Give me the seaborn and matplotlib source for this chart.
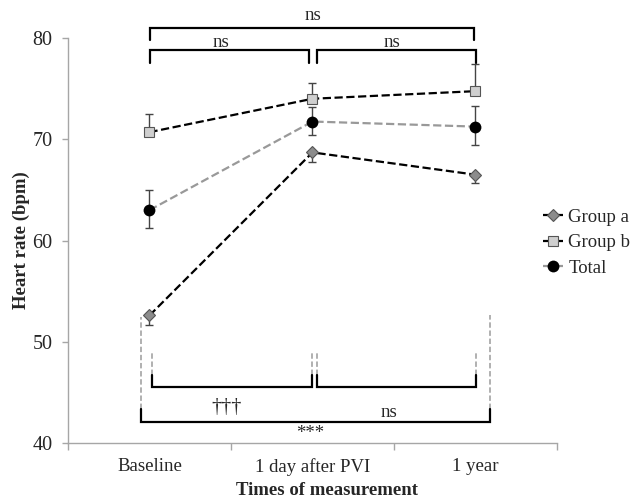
import numpy as np
import pandas as pd
import matplotlib
matplotlib.use("Agg")
import matplotlib.pyplot as plt
import seaborn as sns

# values
times = ["Baseline", "1 day after PVI", "1 year"]
group_a = [52.6, 68.7, 66.5]
group_a_err = [0.95, 0.9, 0.85]      # only lower whisker visible
group_b = [70.7, 74.0, 74.75]
group_b_err = [1.75, 1.6, 2.65]      # only upper whisker visible
total = [63.0, 71.75, 71.25]
total_err_low = [1.8, 1.3, 1.85]
total_err_high = [2.0, 1.4, 2.0]

df = pd.DataFrame({
    "time": times * 3,
    "hr": group_a + group_b + total,
    "group": ["Group a"] * 3 + ["Group b"] * 3 + ["Total"] * 3,
})

sns.set_style("white")
plt.rcParams["font.family"] = ["Liberation Serif", "DejaVu Serif"]
plt.rcParams["font.size"] = 13.5

fig = plt.figure(figsize=(6.42, 5.04), dpi=100)
ax = fig.add_axes([0.1059, 0.121, 0.7617, 0.8036])

# error bars first so the markers sit on top
zeros = [0, 0, 0]
ax.errorbar(times, group_a, yerr=[group_a_err, zeros], fmt="none",
            ecolor="#444444", elinewidth=1, capsize=3, capthick=1, zorder=2)
ax.errorbar(times, group_b, yerr=[zeros, group_b_err], fmt="none",
            ecolor="#444444", elinewidth=1, capsize=3, capthick=1, zorder=2)
ax.errorbar(times, total, yerr=[total_err_low, total_err_high], fmt="none",
            ecolor="#444444", elinewidth=1, capsize=3, capthick=1, zorder=2)

sns.lineplot(data=df[df.group == "Group a"], x="time", y="hr", ax=ax,
             color="black", linestyle="--", linewidth=1.6, dashes=False,
             marker="D", markersize=6.5, markerfacecolor="#8c8c8c",
             markeredgecolor="#555555", markeredgewidth=0.8,
             label="Group a", errorbar=None, zorder=3)
sns.lineplot(data=df[df.group == "Group b"], x="time", y="hr", ax=ax,
             color="black", linestyle="--", linewidth=1.6, dashes=False,
             marker="s", markersize=6.5, markerfacecolor="#cfcfcf",
             markeredgecolor="#555555", markeredgewidth=0.8,
             label="Group b", errorbar=None, zorder=3)
sns.lineplot(data=df[df.group == "Total"], x="time", y="hr", ax=ax,
             color="#999999", linestyle="--", linewidth=1.6, dashes=False,
             marker="o", markersize=8.5, markerfacecolor="black",
             markeredgecolor="black", markeredgewidth=0,
             label="Total", errorbar=None, zorder=3)

ax.set_ylim(40, 80)
ax.set_xlim(-0.5, 2.5)
ax.set_yticks([40, 50, 60, 70, 80])
ax.set_xticks([-0.5, 0.5, 1.5, 2.5], ["", "", "", ""])
ax.set_xticks([0, 1, 2], times, minor=True)
ax.tick_params(axis="x", which="major", length=5, width=1, color="#a6a6a6",
               direction="out", bottom=True)
ax.tick_params(axis="x", which="minor", length=0, pad=11, labelsize=13.5)
ax.tick_params(axis="y", length=4, width=1, color="#a6a6a6", direction="out",
               left=True, pad=7, labelsize=14.5)
for side in ["top", "right"]:
    ax.spines[side].set_visible(False)
for side in ["left", "bottom"]:
    ax.spines[side].set_color("#a6a6a6")
    ax.spines[side].set_linewidth(1)

ax.set_xlabel("Times of measurement", fontweight="bold", fontsize=13.5)
ax.set_ylabel("Heart rate (bpm)", fontweight="bold", fontsize=13.5)
ax.xaxis.set_label_coords(0.53, -0.096)
ax.yaxis.set_label_coords(-0.078, 0.5)


def bracket(x0, x1, y, tip, lw=1.6):
    ax.plot([x0, x0, x1, x1], [tip, y, y, tip], color="black", lw=lw,
            clip_on=False, zorder=4, solid_joinstyle="miter")


def guide(x, y0, y1):
    ax.plot([x, x], [y0, y1], color="#aaaaaa", lw=1.3, ls=(0, (3, 1.5)),
            clip_on=False, zorder=1)


# comparisons above the lines
bracket(0.006, 1.99, 81.0, 79.8)
bracket(0.006, 0.98, 78.8, 77.5)
bracket(1.03, 2.006, 78.8, 77.5)
ax.text(1.0, 82.2, "ns", ha="center", va="center", clip_on=False)
ax.text(0.44, 79.6, "ns", ha="center", va="center")
ax.text(1.49, 79.6, "ns", ha="center", va="center")

# comparisons below the lines
bracket(0.017, 0.997, 45.5, 46.75)
bracket(1.03, 2.006, 45.5, 46.75)
bracket(-0.055, 2.092, 42.05, 43.4)
guide(0.017, 46.75, 48.9)
guide(0.997, 46.75, 49.1)
guide(1.03, 46.75, 49.1)
guide(2.006, 46.75, 49.0)
guide(-0.055, 43.4, 52.45)
guide(2.092, 43.4, 52.6)
ax.text(0.47, 43.55, "\u2020\u2020\u2020", ha="center", va="center",
        fontsize=14.5)
ax.text(1.47, 43.0, "ns", ha="center", va="center")
ax.text(0.985, 40.95, "***", ha="center", va="center")

ax.legend(loc="center left", bbox_to_anchor=(0.831, 0.518),
          bbox_transform=fig.transFigure, frameon=False, borderpad=0,
          handlelength=1.05, handletextpad=0.3, labelspacing=0.45,
          fontsize=13.5)

fig.savefig("out.png", dpi=100)
